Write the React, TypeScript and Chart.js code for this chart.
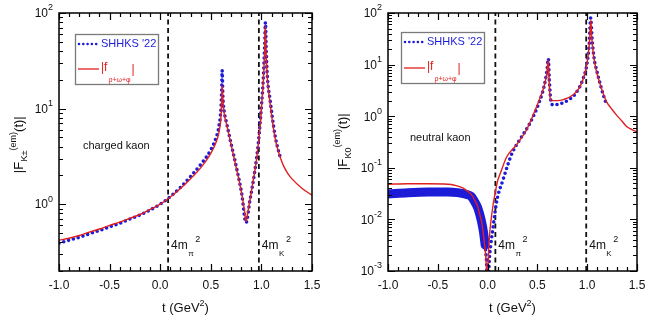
import React, { useEffect, useRef } from 'react';
import { Chart, registerables } from 'chart.js';
Chart.register(...registerables);

// ---------------- data ----------------
// charged kaon: |f_{rho+omega+phi}|
const tChargedFit = [-1.0, -0.9, -0.8, -0.7, -0.6, -0.5, -0.4, -0.3, -0.2, -0.1, 0.0, 0.1, 0.2, 0.3, 0.4, 0.5, 0.55, 0.58, 0.6, 0.608, 0.612, 0.62, 0.635, 0.657, 0.69, 0.72, 0.756, 0.78, 0.805, 0.83, 0.848, 0.865, 0.887, 0.91, 0.937, 0.955, 0.97, 0.99, 1.003, 1.02, 1.032, 1.039, 1.046, 1.06, 1.085, 1.11, 1.134, 1.16, 1.19, 1.22, 1.26, 1.3, 1.4, 1.5];
const fChargedFit = [0.42, 0.44, 0.47, 0.51, 0.55, 0.6, 0.65, 0.71, 0.78, 0.88, 1.0, 1.19, 1.46, 1.85, 2.4, 3.4, 4.4, 5.6, 8.0, 12, 17.6, 12, 8.5, 6.8, 4.7, 3.4, 2.3, 1.75, 1.3, 0.9, 0.66, 0.82, 1.1, 1.55, 2.3, 3.1, 4.3, 7.0, 11, 20, 40, 74, 40, 20, 11.5, 7.2, 5.0, 3.8, 3.0, 2.5, 2.1, 1.85, 1.47, 1.24];
// charged kaon: SHHKS '22
const tChargedData = [-1.0, -0.9, -0.8, -0.7, -0.6, -0.5, -0.4, -0.3, -0.2, -0.1, 0.0, 0.1, 0.2, 0.3, 0.4, 0.5, 0.55, 0.58, 0.6, 0.608, 0.612, 0.62, 0.635, 0.657, 0.69, 0.756, 0.805, 0.848, 0.887, 0.937, 0.97, 1.003, 1.02, 1.032, 1.04, 1.048, 1.06, 1.085, 1.134, 1.183, 1.2];
const fChargedData = [0.39, 0.42, 0.45, 0.49, 0.53, 0.58, 0.63, 0.7, 0.77, 0.87, 1.0, 1.2, 1.5, 1.95, 2.6, 3.7, 4.9, 6.5, 10, 16, 25, 13, 9, 7, 4.8, 2.35, 1.3, 0.64, 1.1, 2.3, 4.4, 11.5, 22, 45, 80, 40, 21, 12.5, 5.3, 3.2, 2.9];

// neutral kaon: |f_{rho+omega+phi}|
const tNeutralFit = [-1.0, -0.8, -0.6, -0.4, -0.333, -0.25, -0.2, -0.15, -0.132, -0.1, -0.081, -0.06, -0.048, -0.025, -0.012, -0.004, 0.0, 0.007, 0.02, 0.035, 0.055, 0.07, 0.1, 0.13, 0.19, 0.29, 0.39, 0.49, 0.55, 0.575, 0.595, 0.608, 0.615, 0.625, 0.64, 0.7, 0.76, 0.86, 0.927, 0.977, 1.005, 1.025, 1.036, 1.045, 1.06, 1.077, 1.1, 1.128, 1.16, 1.195, 1.25, 1.295, 1.35, 1.396, 1.45, 1.5];
const fNeutralFit = [0.048, 0.049, 0.049, 0.048, 0.046, 0.041, 0.035, 0.028, 0.024, 0.018, 0.013, 0.009, 0.0063, 0.0026, 0.0012, 0.0004, 0.0002, 0.0016, 0.005, 0.0098, 0.019, 0.028, 0.055, 0.08, 0.16, 0.28, 0.54, 1.5, 3.0, 4.3, 7, 12.3, 7, 2.5, 2.0, 2.0, 2.1, 2.6, 3.7, 6.8, 13, 30, 73, 35, 17, 10.5, 6.5, 4.3, 2.8, 1.9, 1.35, 1.05, 0.8, 0.63, 0.55, 0.5];
// neutral kaon: SHHKS '22 (dotted)
const tNeutralData = [-1.0, -0.8, -0.6, -0.4, -0.3, -0.2, -0.166, -0.13, -0.1, -0.065, -0.04, -0.02, -0.008, -0.002, 0.003, 0.017, 0.03, 0.052, 0.075, 0.1, 0.153, 0.2, 0.25, 0.323, 0.423, 0.524, 0.57, 0.595, 0.61, 0.62, 0.635, 0.658, 0.708, 0.79, 0.88, 0.96, 1.0, 1.02, 1.035, 1.05, 1.07, 1.094, 1.14, 1.185, 1.2];
const fNeutralData = [0.031, 0.033, 0.034, 0.034, 0.033, 0.03, 0.028, 0.022, 0.017, 0.0098, 0.0055, 0.0025, 0.0011, 0.0003, 0.0003, 0.0016, 0.003, 0.0063, 0.014, 0.027, 0.057, 0.11, 0.2, 0.35, 0.72, 2.0, 4.0, 7.5, 13, 5, 2.0, 1.65, 1.7, 1.95, 2.7, 5.4, 11, 25, 80, 30, 13, 7.9, 3.6, 1.9, 1.7];
// neutral kaon: SHHKS '22 dense band at negative t
const tNeutralBand = [-1.0, -0.8, -0.6, -0.4, -0.3, -0.2, -0.166, -0.13, -0.1, -0.065, -0.04, -0.025];
const fNeutralBand = [0.031, 0.033, 0.034, 0.034, 0.033, 0.03, 0.028, 0.022, 0.017, 0.0098, 0.0055, 0.0032];

// thresholds
const fourMpi2 = 0.078;
const fourMK2Charged = 0.975;
const fourMK2Neutral = 0.99;

// ticks
const xTickValues = [-1.0, -0.5, 0.0, 0.5, 1.0, 1.5];
const xTickLabels = ['-1.0', '-0.5', '0.0', '0.5', '1.0', '1.5'];
const chargedDecadeExps = [0, 1, 2];
const neutralDecadeExps = [-3, -2, -1, 0, 1, 2];

const BLUE = '#1c1cd8';
const RED = '#e0201e';
const FONT = '"Liberation Sans", Arial, Helvetica, sans-serif';

type PanelCfg = {
  ySub: string;
  yTitleX: number;
  yTitleY: number;
  exps: number[];
  yMin: number;
  yMax: number;
  note: string;
  noteX: number;
  noteY: number;
  box: [number, number, number, number];
  row1: number;
  row2: number;
  vlines: { t: number; sub: string }[];
};

function zip(t: number[], f: number[]) {
  return t.map((v, i) => ({ x: v, y: f[i] }));
}

function makeDecor(cfg: PanelCfg) {
  return {
    id: 'decor',
    afterDraw(chart: any) {
      const ctx: CanvasRenderingContext2D = chart.ctx;
      const { left, right, top, bottom } = chart.chartArea;
      const xs = chart.scales.x;
      const ys = chart.scales.y;
      ctx.save();
      ctx.strokeStyle = '#000';
      ctx.fillStyle = '#111';
      // ticks x
      ctx.lineWidth = 1.2;
      for (let i = -10; i <= 15; i++) {
        const px = Math.round(xs.getPixelForValue(i / 10)) + 0.5;
        const len = i % 5 === 0 ? 7 : 4;
        ctx.beginPath();
        ctx.moveTo(px, bottom);
        ctx.lineTo(px, bottom - len);
        ctx.moveTo(px, top);
        ctx.lineTo(px, top + len);
        ctx.stroke();
      }
      // ticks y
      const e0 = Math.floor(Math.log10(cfg.yMin));
      const e1 = Math.ceil(Math.log10(cfg.yMax));
      for (let e = e0; e <= e1; e++) {
        for (let m = 1; m <= 9; m++) {
          const v = m * Math.pow(10, e);
          if (v < cfg.yMin * 0.999 || v > cfg.yMax * 1.001) continue;
          const py = Math.round(ys.getPixelForValue(v)) + 0.5;
          const len = m === 1 ? 7 : 4;
          ctx.beginPath();
          ctx.moveTo(left, py);
          ctx.lineTo(left + len, py);
          ctx.moveTo(right, py);
          ctx.lineTo(right - len, py);
          ctx.stroke();
        }
      }
      // frame
      ctx.lineWidth = 1.5;
      ctx.strokeRect(left, top, right - left, bottom - top);

      // x tick labels
      ctx.font = '12px ' + FONT;
      ctx.textAlign = 'center';
      ctx.textBaseline = 'middle';
      xTickValues.forEach((v, i) => {
        ctx.fillText(xTickLabels[i], xs.getPixelForValue(v), bottom + 15);
      });
      // y tick labels 10^e
      ctx.textAlign = 'left';
      cfg.exps.forEach((e) => {
        const py = ys.getPixelForValue(Math.pow(10, e));
        ctx.font = '12px ' + FONT;
        const wb = ctx.measureText('10').width;
        ctx.font = '9px ' + FONT;
        const sup = String(e);
        const ws = ctx.measureText(sup).width;
        const x0 = left - 6 - wb - ws;
        ctx.font = '12px ' + FONT;
        ctx.fillText('10', x0, py + 1);
        ctx.font = '9px ' + FONT;
        ctx.fillText(sup, x0 + wb, py - 5);
      });

      // x title t (GeV^2)
      {
        const cx = (left + right) / 2;
        const by = 312;
        ctx.textBaseline = 'alphabetic';
        ctx.font = '13px ' + FONT;
        const w1 = ctx.measureText('t (GeV').width;
        const w3 = ctx.measureText(')').width;
        ctx.font = '9px ' + FONT;
        const w2 = ctx.measureText('2').width;
        let x = cx - (w1 + w2 + w3) / 2;
        ctx.font = '13px ' + FONT;
        ctx.fillText('t (GeV', x, by);
        x += w1;
        ctx.font = '9px ' + FONT;
        ctx.fillText('2', x, by - 6);
        x += w2;
        ctx.font = '13px ' + FONT;
        ctx.fillText(')', x, by);
      }

      // y title |F_sub^(em)(t)|
      {
        ctx.save();
        ctx.translate(cfg.yTitleX, cfg.yTitleY);
        ctx.rotate(-Math.PI / 2);
        ctx.textBaseline = 'alphabetic';
        const parts = [
          { t: '|F', f: '13px ' + FONT, dy: 0 },
          { t: cfg.ySub, f: '9px ' + FONT, dy: 4 },
          { t: '(em)', f: '9px ' + FONT, dy: -7 },
          { t: '(t)|', f: '13px ' + FONT, dy: 0 },
        ];
        let tot = 0;
        const ws = parts.map((p) => {
          ctx.font = p.f;
          const w = ctx.measureText(p.t).width;
          tot += w;
          return w;
        });
        let x = -tot / 2;
        parts.forEach((p, i) => {
          ctx.font = p.f;
          ctx.fillText(p.t, x, p.dy);
          x += ws[i] + (i === 0 ? 0.5 : 0);
        });
        ctx.restore();
      }

      // note
      ctx.font = '11px ' + FONT;
      ctx.textBaseline = 'middle';
      ctx.textAlign = 'left';
      ctx.fillText(cfg.note, cfg.noteX, cfg.noteY);

      // threshold labels 4m_x^2
      cfg.vlines.forEach((vl) => {
        const px = xs.getPixelForValue(vl.t) + 3;
        const cy = 246;
        ctx.font = '12px ' + FONT;
        ctx.textBaseline = 'middle';
        ctx.fillText('4m', px, cy);
        const w = ctx.measureText('4m').width;
        ctx.font = '8px ' + FONT;
        ctx.fillText(vl.sub, px + w + 0.5, cy + 8);
        const ws = ctx.measureText(vl.sub).width;
        ctx.font = '9px ' + FONT;
        ctx.fillText('2', px + w + ws + 2, cy - 6);
      });

      // legend box
      {
        const [x0, y0, x1, y1] = cfg.box;
        ctx.fillStyle = '#fff';
        ctx.fillRect(x0, y0, x1 - x0, y1 - y0);
        ctx.strokeStyle = '#7a7a7a';
        ctx.lineWidth = 1.3;
        ctx.strokeRect(x0 + 0.5, y0 + 0.5, x1 - x0, y1 - y0);
        // row 1 dotted blue
        ctx.strokeStyle = BLUE;
        ctx.lineWidth = 2.6;
        ctx.lineCap = 'round';
        ctx.setLineDash([0, 4.3]);
        ctx.beginPath();
        ctx.moveTo(x0 + 4, cfg.row1);
        ctx.lineTo(x0 + 23, cfg.row1);
        ctx.stroke();
        ctx.setLineDash([]);
        ctx.lineCap = 'butt';
        ctx.fillStyle = BLUE;
        ctx.font = '11px ' + FONT;
        ctx.textBaseline = 'middle';
        ctx.fillText("SHHKS '22", x0 + 26, cfg.row1);
        // row 2 red
        ctx.strokeStyle = RED;
        ctx.lineWidth = 1.3;
        ctx.beginPath();
        ctx.moveTo(x0 + 3, cfg.row2);
        ctx.lineTo(x0 + 24, cfg.row2);
        ctx.stroke();
        ctx.fillStyle = RED;
        ctx.font = '12px ' + FONT;
        ctx.fillText('|f', x0 + 26, cfg.row2 - 1);
        const wf = ctx.measureText('|f').width;
        ctx.font = '7px ' + FONT;
        ctx.fillText('\u03c1+\u03c9+\u03c6', x0 + 26 + wf + 1, cfg.row2 + 11);
        const wsub = ctx.measureText('\u03c1+\u03c9+\u03c6').width;
        ctx.font = '12px ' + FONT;
        ctx.fillText('|', x0 + 26 + wf + wsub + 2, cfg.row2 + 1);
      }
      ctx.restore();
    },
  };
}

function vline(t: number, yMin: number, yMax: number) {
  return {
    label: 'threshold',
    data: [
      { x: t, y: yMin },
      { x: t, y: yMax },
    ],
    borderColor: '#111',
    borderWidth: 1.8,
    borderDash: [5, 3.5],
    pointRadius: 0,
    clip: 0,
  };
}

function makeConfig(
  cfg: PanelCfg,
  fit: { x: number; y: number }[],
  data: { x: number; y: number }[],
  band: { x: number; y: number }[] | null,
  leftW: number,
  rightPad: number
) {
  const datasets: any[] = [
    {
      label: '|f_{\u03c1+\u03c9+\u03c6}|',
      data: fit,
      borderColor: RED,
      borderWidth: 1.4,
      pointRadius: 0,
      cubicInterpolationMode: 'monotone',
      clip: 0,
    },
    {
      label: "SHHKS '22",
      data: data,
      borderColor: BLUE,
      borderWidth: 3.6,
      borderDash: [0, 5],
      borderCapStyle: 'round',
      pointRadius: 0,
      cubicInterpolationMode: 'monotone',
      clip: 0,
    },
  ];
  if (band) {
    datasets.push({
      label: "SHHKS '22 band",
      data: band,
      borderColor: BLUE,
      borderWidth: 9,
      borderCapStyle: 'round',
      borderJoinStyle: 'round',
      pointRadius: 0,
      cubicInterpolationMode: 'monotone',
      clip: 0,
    });
  }
  cfg.vlines.forEach((v) => datasets.push(vline(v.t, cfg.yMin, cfg.yMax)));
  return {
    type: 'line' as const,
    data: { datasets },
    options: {
      animation: false as const,
      responsive: false,
      maintainAspectRatio: false,
      events: [],
      layout: { padding: { top: 13, right: rightPad, left: 0, bottom: 0 } },
      plugins: { legend: { display: false }, tooltip: { enabled: false } },
      scales: {
        x: {
          type: 'linear' as const,
          min: -1,
          max: 1.5,
          ticks: { display: false },
          grid: { display: false },
          border: { display: false },
          afterFit: (s: any) => {
            s.height = 50;
          },
        },
        y: {
          type: 'logarithmic' as const,
          min: cfg.yMin,
          max: cfg.yMax,
          ticks: { display: false },
          grid: { display: false },
          border: { display: false },
          afterFit: (s: any) => {
            s.width = leftW;
          },
        },
      },
    },
    plugins: [makeDecor(cfg)],
  };
}

const chargedCfg: PanelCfg = {
  ySub: 'K\u00b1',
  yTitleX: 23,
  yTitleY: 145,
  exps: chargedDecadeExps,
  yMin: 0.2,
  yMax: 100,
  note: 'charged kaon',
  noteX: 83,
  noteY: 146,
  box: [75, 34, 158, 84],
  row1: 44,
  row2: 69,
  vlines: [
    { t: fourMpi2, sub: '\u03c0' },
    { t: fourMK2Charged, sub: 'K' },
  ],
};

const neutralCfg: PanelCfg = {
  ySub: 'K0',
  yTitleX: 22,
  yTitleY: 142,
  exps: neutralDecadeExps,
  yMin: 0.001,
  yMax: 100,
  note: 'neutral kaon',
  noteX: 85,
  noteY: 138,
  box: [76, 32, 159, 83],
  row1: 42,
  row2: 68,
  vlines: [
    { t: fourMpi2, sub: '\u03c0' },
    { t: fourMK2Neutral, sub: 'K' },
  ],
};

export default function App() {
  const c1 = useRef<HTMLCanvasElement>(null);
  const c2 = useRef<HTMLCanvasElement>(null);
  useEffect(() => {
    const ch1 = new Chart(
      c1.current!,
      makeConfig(chargedCfg, zip(tChargedFit, fChargedFit), zip(tChargedData, fChargedData), null, 59, 13) as any
    );
    const ch2 = new Chart(
      c2.current!,
      makeConfig(
        neutralCfg,
        zip(tNeutralFit, fNeutralFit),
        zip(tNeutralData, fNeutralData),
        zip(tNeutralBand, fNeutralBand),
        63,
        12
      ) as any
    );
    return () => {
      ch1.destroy();
      ch2.destroy();
    };
  }, []);
  return (
    <div style={{ position: 'absolute', left: 0, top: 0, width: 649, height: 321, background: '#fff' }}>
      <canvas ref={c1} width={325} height={321} style={{ position: 'absolute', left: 0, top: 0, width: 325, height: 321 }} />
      <canvas ref={c2} width={324} height={321} style={{ position: 'absolute', left: 325, top: 0, width: 324, height: 321 }} />
    </div>
  );
}
